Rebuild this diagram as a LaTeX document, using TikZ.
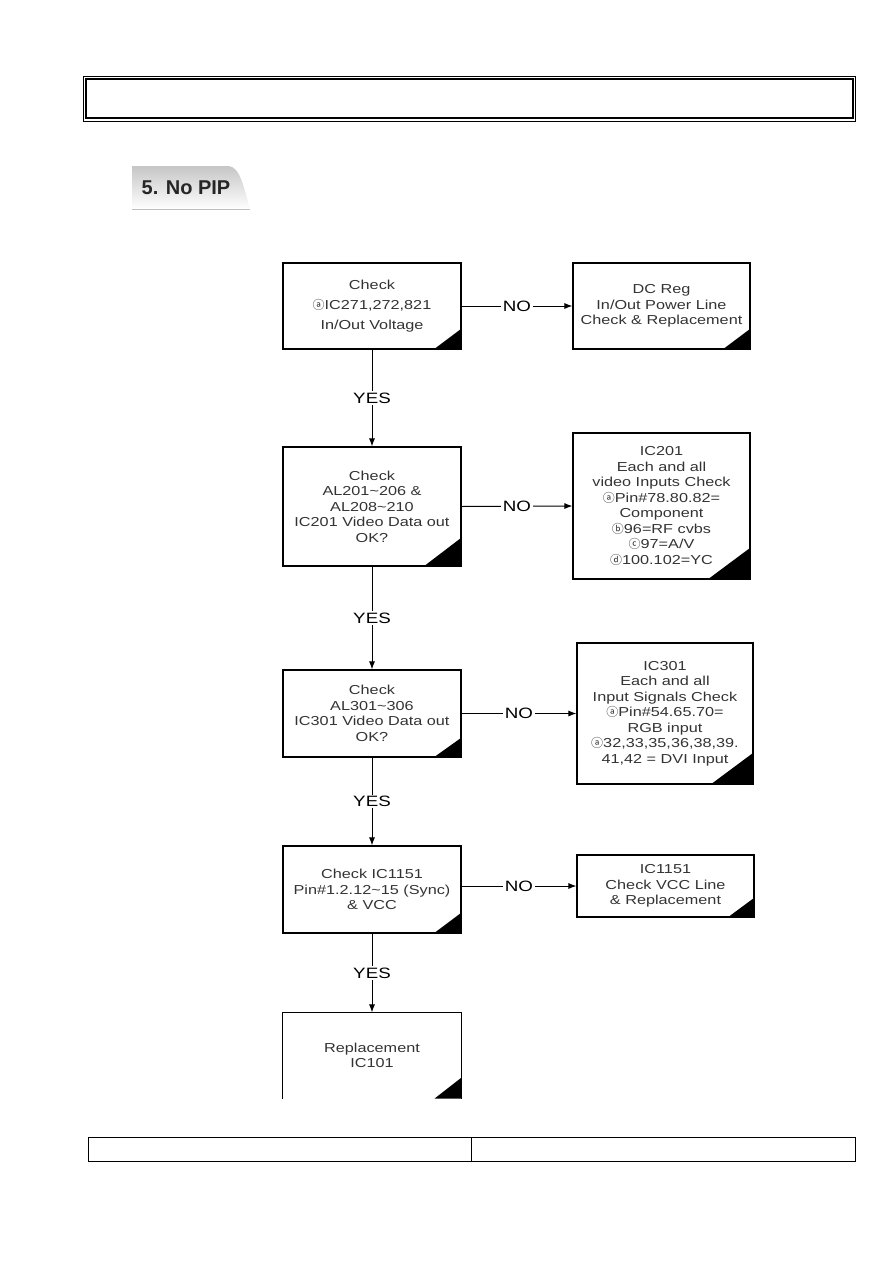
\documentclass[tikz,border=0pt]{standalone}
\usepackage{fontspec}
\setmainfont{Liberation Sans}[FakeStretch=1.25]
\newfontfamily\circfont{Noto Sans CJK SC}
\usepackage{xcolor}
\usepackage{tikz}
\usetikzlibrary{arrows.meta, shapes, positioning, calc}

\newcommand{\ca}{{\circfont\fontsize{12}{12}\selectfont ⓐ}}
\newcommand{\cb}{{\circfont\fontsize{12}{12}\selectfont ⓑ}}
\newcommand{\cc}{{\circfont\fontsize{12}{12}\selectfont ⓒ}}
\newcommand{\cd}{{\circfont\fontsize{12}{12}\selectfont ⓓ}}

\begin{document}
\begin{tikzpicture}[x=1pt, y=-1pt,
  box/.style={draw, line width=1.1pt, align=center, inner sep=0pt,
    text=black!80, font=\fontsize{13}{15.5}\selectfont},
  flow/.style={line width=1pt, -{Latex[length=8pt,width=6pt]}},
  lbl/.style={fill=white, inner sep=1.5pt, font=\fontsize{15}{15}\selectfont}]
  \useasboundingbox (0,0) rectangle (893,1263);

  % Header frame
  \draw[line width=0.6pt] (83.5,76.5) rectangle (855.5,121);
  \draw[line width=1.6pt] (86,79) rectangle (853,118);

  % Title tab
  \shade[top color=gray!45, bottom color=white]
    (132,209) -- (132,166) -- (228,166)
    .. controls (240,166) and (244,188) .. (250,209) -- cycle;
  \draw[gray!50, line width=0.6pt] (132,209) -- (250,209);
  \node[font=\bfseries\fontsize{20}{20}\selectfont, text=black!85] (title)
    at (186,188) {\addfontfeature{FakeStretch=1.0}5. No PIP};

  % Left column
  \node[box, minimum width=178pt, minimum height=86pt] (b1) at (372,306)
    {Check\\[4.5pt] \ca IC271,272,821\\[4.5pt] In/Out Voltage};
  \node[box, minimum width=178pt, minimum height=119pt] (b2) at (372,506.5)
    {Check\\ AL201\textasciitilde 206 \&\\ AL208\textasciitilde 210\\
     IC201 Video Data out\\ OK?};
  \node[box, minimum width=178pt, minimum height=87pt] (b3) at (372,713.5)
    {Check\\ AL301\textasciitilde 306\\ IC301 Video Data out\\ OK?};
  \node[box, minimum width=178pt, minimum height=87pt] (b4) at (372,889.5)
    {Check IC1151\\ Pin\#1.2.12\textasciitilde 15 (Sync)\\ \& VCC};
  \node[box, draw=none, minimum width=178pt, minimum height=85pt] (b5)
    at (372,1055.5) {Replacement\\ IC101};
  \draw[line width=1.1pt] (b5.south west) -- (b5.north west)
    -- (b5.north east) -- (b5.south east);

  % Right column
  \node[box, minimum width=177pt, minimum height=86pt] (r1) at (661.5,306)
    {DC Reg\\ In/Out Power Line\\ Check \& Replacement};
  \node[box, minimum width=177pt, minimum height=146pt] (r2) at (661.5,506)
    {IC201\\ Each and all\\ video Inputs Check\\ \ca Pin\#78.80.82=\\
     Component\\ \cb 96=RF cvbs\\ \cc 97=A/V\\ \cd 100.102=YC};
  \node[box, minimum width=176pt, minimum height=141pt] (r3) at (665,713.5)
    {IC301\\ Each and all\\ Input Signals Check\\ \ca Pin\#54.65.70=\\
     RGB input\\ \ca 32,33,35,36,38,39.\\ 41,42 = DVI Input};
  \node[box, minimum width=177pt, minimum height=62pt] (r4) at (665.5,886)
    {IC1151\\ Check VCC Line\\ \& Replacement};

  % Corner marks
  \foreach \n/\w/\h in {b1/28/21, b2/38/29, b3/28/20, b4/28/21, b5/27/21,
                        r1/28/21, r2/43/32, r3/43/32, r4/27/20}
    \fill (\n.south east) -- ++(-\w,0) -- ++(\w,-\h) -- cycle;

  % YES connectors
  \foreach \a/\b in {b1/b2, b2/b3, b3/b4, b4/b5}
    \draw[flow] (\a.south) -- node[lbl] {YES} (\b.north);

  % NO connectors
  \draw[flow] (b1.east) -- node[lbl] {NO} (r1.west);
  \draw[flow] (b2.east) -- node[lbl] {NO} (r2.west);
  \draw[flow] (b3.east) -- node[lbl] {NO} (r3.west);
  \draw[flow] (b4.east |- r4.west) -- node[lbl] {NO} (r4.west);

  % Footer table
  \draw[line width=1pt] (88,1137) rectangle (855,1161);
  \draw[line width=1pt] (471,1137) -- (471,1161);
\end{tikzpicture}
\end{document}
